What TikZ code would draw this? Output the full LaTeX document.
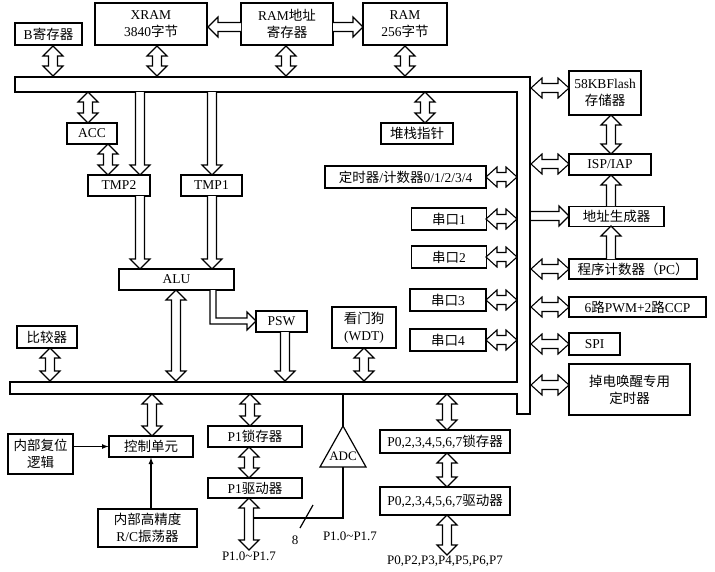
\documentclass[tikz,border=0pt]{standalone}
\usepackage{fontspec}
\setmainfont{Liberation Serif}
\newfontfamily\cjk{Noto Sans CJK SC}
\newcommand\zh[1]{{\cjk #1}}
\begin{document}
\begin{tikzpicture}[x=1pt,y=-1pt,line width=1.2pt,
  box/.style={draw,inner sep=0pt,align=center,font=\fontsize{13.5}{17}\selectfont},
  ha/.style={draw,fill=white,line width=1.1pt,line join=miter},
  lbl/.style={inner sep=0pt,font=\fontsize{13}{15}\selectfont}]
\useasboundingbox (0,0) rectangle (715,571);
\newcommand\vda[3]{\draw[ha] ({#1-4.5},{#2+10})--({#1-10},{#2+10})--(#1,#2)--({#1+10},{#2+10})--({#1+4.5},{#2+10})--({#1+4.5},{#3-10})--({#1+10},{#3-10})--(#1,#3)--({#1-10},{#3-10})--({#1-4.5},{#3-10})--cycle;}
\newcommand\hda[3]{\draw[ha] ({#2+11},{#1-4.5})--({#2+11},{#1-10})--(#2,#1)--({#2+11},{#1+10})--({#2+11},{#1+4.5})--({#3-11},{#1+4.5})--({#3-11},{#1+10})--(#3,#1)--({#3-11},{#1-10})--({#3-11},{#1-4.5})--cycle;}
\newcommand\dnA[3]{\draw[ha] ({#1-4.5},#2)--({#1-4.5},{#3-10})--({#1-10},{#3-10})--(#1,#3)--({#1+10},{#3-10})--({#1+4.5},{#3-10})--({#1+4.5},#2);}
\newcommand\upA[3]{\draw[ha] ({#1-4.5},#3)--({#1-4.5},{#2+10})--({#1-10},{#2+10})--(#1,#2)--({#1+10},{#2+10})--({#1+4.5},{#2+10})--({#1+4.5},#3);}
\newcommand\rtA[3]{\draw[ha] (#2,{#1-4.5})--({#3-10},{#1-4.5})--({#3-10},{#1-10})--(#3,#1)--({#3-10},{#1+10})--({#3-10},{#1+4.5})--(#2,{#1+4.5});}
\newcommand\ltA[3]{\draw[ha] (#3,{#1-4.5})--({#2+10},{#1-4.5})--({#2+10},{#1-10})--(#2,#1)--({#2+10},{#1+10})--({#2+10},{#1+4.5})--(#3,{#1+4.5});}
% bus
\draw (15,77)--(530,77)--(530,414)--(517,414)--(517,394)--(10,394)--(10,382)--(517,382)--(517,92)--(15,92)--cycle;
% boxes
\node[box,minimum width=67,minimum height=22] (b) at (48.5,34) {B\zh{寄存器}};
\node[box,minimum width=112,minimum height=42] (xram) at (151,24) {XRAM\\3840\zh{字节}};
\node[box,minimum width=92,minimum height=42] (ramaddr) at (287,24) {RAM\zh{地址}\\\zh{寄存器}};
\node[box,minimum width=84,minimum height=42] (ram) at (405,24) {RAM\\256\zh{字节}};
\node[box,minimum width=50,minimum height=21] (acc) at (92,133.5) {ACC};
\node[box,minimum width=62,minimum height=21] (tmp2) at (119,185.5) {TMP2};
\node[box,minimum width=61,minimum height=21] (tmp1) at (211.5,185.5) {TMP1};
\node[box,minimum width=72,minimum height=21] (sp) at (417,133.5) {\zh{堆栈指针}};
\node[box,minimum width=161,minimum height=22] (tim) at (405.5,177) {\zh{定时器}/\zh{计数器}0/1/2/3/4};
\node[box,minimum width=75,minimum height=22] (u1) at (449,219) {\zh{串口}1};
\node[box,minimum width=75,minimum height=22] (u2) at (449,257) {\zh{串口}2};
\node[box,minimum width=76,minimum height=22] (u3) at (448,300) {\zh{串口}3};
\node[box,minimum width=76,minimum height=22] (u4) at (448,340) {\zh{串口}4};
\node[box,minimum width=72,minimum height=44] (flash) at (605,93) {58KBFlash\\\zh{存储器}};
\node[box,minimum width=82,minimum height=21] (isp) at (610,164.5) {ISP/IAP};
\node[box,minimum width=95,minimum height=20] (agen) at (616.5,216.5) {\zh{地址生成器}};
\node[box,minimum width=128,minimum height=20] (pc) at (633,269) {\zh{程序计数器（}PC\zh{）}};
\node[box,minimum width=137,minimum height=20] (pwm) at (637.5,307) {6\zh{路}PWM+2\zh{路}CCP};
\node[box,minimum width=51,minimum height=22] (spi) at (594.5,344) {SPI};
\node[box,minimum width=121,minimum height=51] (pd) at (629.5,389.5) {\zh{掉电唤醒专用}\\\zh{定时器}};
\node[box,minimum width=115,minimum height=21] (alu) at (176.5,279.5) {ALU};
\node[box,minimum width=51,minimum height=21] (psw) at (281.5,321.5) {PSW};
\node[box,minimum width=64,minimum height=41] (wdt) at (364,327.5) {\zh{看门狗}\\(WDT)};
\node[box,minimum width=60,minimum height=22] (cmp) at (47,337) {\zh{比较器}};
\node[box,minimum width=84,minimum height=21] (ctl) at (151,446.5) {\zh{控制单元}};
\node[box,minimum width=65,minimum height=40] (rst) at (40.5,454) {\zh{内部复位}\\\zh{逻辑}};
\node[box,minimum width=99,minimum height=38] (osc) at (147.5,528) {\zh{内部高精度}\\R/C\zh{振荡器}};
\node[box,minimum width=94,minimum height=21] (p1l) at (255,436.5) {P1\zh{锁存器}};
\node[box,minimum width=94,minimum height=20] (p1d) at (255,488) {P1\zh{驱动器}};
\node[box,minimum width=130,minimum height=23] (p0l) at (445,441.5) {P0,2,3,4,5,6,7\zh{锁存器}};
\node[box,minimum width=130,minimum height=28] (p0d) at (445,501) {P0,2,3,4,5,6,7\zh{驱动器}};
% ADC triangle
\draw (343,426) coordinate (adct) -- (366,467) -- (320,467) -- cycle;
\node[lbl] (adc) at (343,456) {ADC};
% top arrows
\vda{53}{46}{76}
\vda{157}{46}{76}
\vda{286}{46}{76}
\vda{405}{46}{76}
\ltA{27}{208}{241}
\rtA{27}{333}{363}
\vda{88}{92}{123}
\vda{108}{144}{175}
\dnA{140}{92}{175}
\dnA{212}{92}{175}
\vda{425}{92}{123}
\hda{177}{486}{517}
\hda{219}{486}{517}
\hda{257}{486}{517}
\hda{300}{486}{517}
\hda{340}{486}{517}
% right
\hda{88}{531}{569}
\hda{164}{531}{569}
\rtA{216}{531}{569}
\hda{269}{531}{569}
\hda{307}{531}{569}
\hda{344}{531}{569}
\hda{385}{531}{569}
\vda{611}{115}{154}
\upA{611}{175}{206}
\upA{611}{226}{259}
% ALU
\dnA{140}{196}{269}
\dnA{212}{196}{269}
\vda{176}{290}{381}
\draw[ha] (210,290)--(210,324)--(247,324)--(247,330)--(256,321)--(247,312)--(247,318)--(216,318)--(216,290);
\dnA{285}{332}{381}
\vda{364}{348}{381}
\vda{50}{348}{381}
% bottom
\vda{152}{394}{436}
\draw[-latex] (rst.east|-ctl.west) -- (ctl.west);
\draw[-latex] (osc.north-|ctl.south) -- (ctl.south);
\vda{250}{394}{426}
\vda{249}{447}{478}
\vda{249}{498}{550}
\node[lbl] at (249,556) {P1.0\textasciitilde P1.7};
\draw (adct) -- (343,394);
\draw (254,518) -- (343,518) -- (343,467);
\draw (300,528) -- (313,505);
\node[lbl] at (295,540) {8};
\node[lbl] at (350,536) {P1.0\textasciitilde P1.7};
\vda{447}{394}{430}
\vda{447}{453}{487}
\vda{447}{515}{555}
\node[lbl] at (445,561) {P0,P2,P3,P4,P5,P6,P7};
\end{tikzpicture}
\end{document}
